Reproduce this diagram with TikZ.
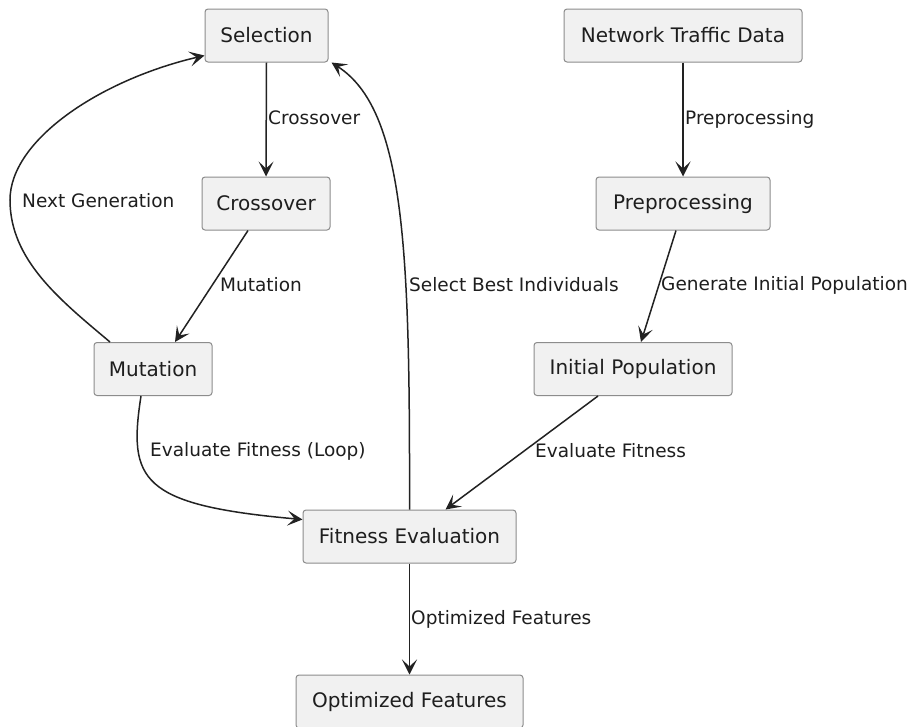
\documentclass[tikz,border=0pt]{standalone}
\usepackage{fontspec}
\setmainfont{DejaVu Sans}
\usetikzlibrary{arrows.meta,calc}
\definecolor{nodefill}{HTML}{F1F1F1}
\definecolor{nodeline}{HTML}{8C8C8C}
\definecolor{edgecol}{HTML}{222222}
\definecolor{txtcol}{HTML}{1E1E1E}
\begin{document}
\begin{tikzpicture}[x=1pt,y=-1pt,
  box/.style={draw=nodeline, fill=nodefill, rounded corners=3pt, line width=1pt,
    minimum height=53pt, inner xsep=0pt, inner ysep=0pt, text=txtcol,
    font=\fontsize{20}{24}\selectfont},
  lbl/.style={anchor=west, inner sep=0pt, text=txtcol, font=\fontsize{18.5}{22}\selectfont},
  edge/.style={draw=edgecol, line width=1.5pt,
    -{Stealth[length=15pt,width=15pt,inset=7pt]}}]
\clip (0,0) rectangle (916,726);
\fill[white] (0,0) rectangle (916,726);
% nodes
\node[box, minimum width=123pt] (sel) at (266.5,35.5) {Selection};
\node[box, minimum width=238pt] (net) at (683,35.5) {Network Traffic Data};
\node[box, minimum width=128pt] (cro) at (266,203.5) {Crossover};
\node[box, minimum width=174pt] (pre) at (683,203.5) {Preprocessing};
\node[box, minimum width=118pt] (mut) at (153,369) {Mutation};
\node[box, minimum width=198pt] (ini) at (633,369) {Initial Population};
\node[box, minimum width=213pt] (fit) at (409.5,536.5) {Fitness Evaluation};
\node[box, minimum width=227pt] (opt) at (409.5,701.5) {Optimized Features};
% labels
\node[lbl] (l1) at (268,118) {Crossover};
\node[lbl] (l2) at (220,285) {Mutation};
\node[lbl] (l3) at (22,201) {Next Generation};
\node[lbl] (l4) at (150,451) {Evaluate Fitness (Loop)};
\node[lbl] (l5) at (409,285) {Select Best Individuals};
\node[lbl] (l6) at (685,119) {Preprocessing};
\node[lbl] (l7) at (661,285) {Generate Initial Population};
\node[lbl] (l8) at (535,451) {Evaluate Fitness};
\node[lbl] (l9) at (411,619) {Optimized Features};
% edges
\draw[edge] (sel.south) -- (cro.north);
\draw[edge] ($(cro.south)+(-18,0)$) -- ($(mut.north)+(22,0)$);
\draw[edge] ($(mut.north)+(-43,0)$) .. controls (60,300) and (10,260) .. (10,200)
  .. controls (10,140) and (100,80) .. ($(sel.south west)+(0,-7)$);
\draw[edge] ($(mut.south)+(-12,0)$) .. controls (128,480) and (140,505) .. ($(fit.west)+(0,-17)$);
\draw[edge] (fit.north) .. controls (410,250) and (405,110) .. ($(sel.south east)+(3,0)$);
\draw[edge] (net.south) -- (pre.north);
\draw[edge] ($(pre.south)+(-7,0)$) -- ($(ini.north)+(8,0)$);
\draw[edge] ($(ini.south)+(-35,0)$) -- ($(fit.north)+(36,0)$);
\draw[edge] (fit.south) -- (opt.north);
\end{tikzpicture}
\end{document}
